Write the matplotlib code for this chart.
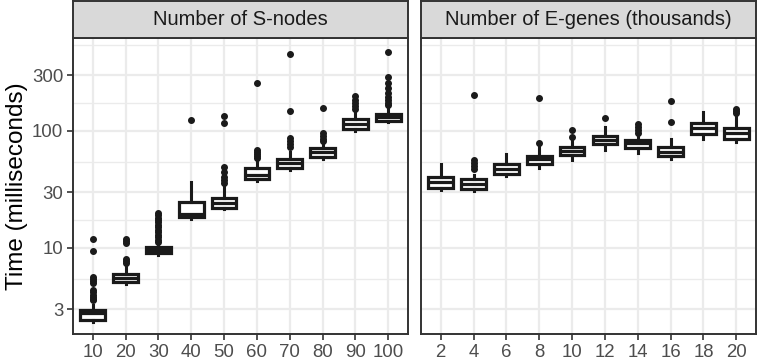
import numpy as np
import matplotlib
matplotlib.use("Agg")
import matplotlib.pyplot as plt

plt.rcParams["font.family"] = ["Liberation Sans", "DejaVu Sans"]

# ---------------------------------------------------------------------------
# data (milliseconds)
# ---------------------------------------------------------------------------
s_labels = ["10", "20", "30", "40", "50", "60", "70", "80", "90", "100"]
s_whislo = [2.33, 4.93, 8.7, 17.7, 21.4, 37.3, 46.5, 57.6, 100.6, 118.9]
s_q1 = [2.43, 5.15, 9.0, 18.5, 21.8, 38.9, 48.0, 60.3, 103, 122]
s_med = [2.78, 5.54, 9.6, 19.5, 24.0, 42.1, 53.0, 66.5, 115, 131]
s_q3 = [2.95, 5.99, 10.26, 24.9, 26.9, 48.3, 57.2, 71.0, 127, 139]
s_whishi = [3.26, 7.16, 10.6, 36.9, 33.4, 56.5, 66.1, 77.5, 146, 161]
s_fliers = [
    [11.9, 9.4, 5.6, 5.4, 5.2, 5.0, 4.4, 4.2, 4.0, 3.8, 3.7, 3.6],
    [11.9, 11.5, 11.1, 8.1, 7.8, 7.5],
    [19.9, 19.0, 18.2, 17.4, 16.6, 15.8, 15.0, 14.3, 13.6, 13.0, 12.4, 11.8, 11.3],
    [124],
    [133, 117, 49.5, 45, 40.8, 38, 36],
    [259, 68.8, 66.2, 63.6, 61.2, 59],
    [452, 149, 86.6, 82, 77.5, 73],
    [156, 96, 90.6, 85.4, 82],
    [199, 184, 174, 164, 154],
    [476, 291, 257, 233, 212, 195, 184, 174, 167],
]

e_labels = ["2", "4", "6", "8", "10", "12", "14", "16", "18", "20"]
e_whislo = [31.3, 30.7, 41.3, 48.0, 56.5, 68.8, 65.3, 57.2, 85, 81]
e_q1 = [32.8, 31.7, 42.7, 51.9, 62.3, 77, 71.1, 61, 94, 85]
e_med = [36.9, 35.2, 47.1, 57.2, 67.5, 83.7, 78.5, 66.1, 105, 95.5]
e_q3 = [40.7, 38.7, 51.9, 61, 72.5, 90.6, 83.7, 73.4, 117, 107]
e_whishi = [51.9, 42.1, 63.6, 73.4, 83.7, 109, 95.5, 85, 146, 132]
e_fliers = [
    [],
    [203, 56.5, 53.2, 50.2, 47.3],
    [],
    [192, 78.5],
    [102, 88.3],
    [130],
    [114, 108, 102, 97],
    [180, 120],
    [],
    [153, 148, 142],
]

strip_titles = ["Number of S-nodes", "Number of E-genes (thousands)"]
y_ticks = [3, 10, 30, 100, 300]
y_minor = [5.48, 17.3, 54.8, 173, 548]


def make_stats(whislo, q1, med, q3, whishi, fliers):
    out = []
    for i in range(len(med)):
        out.append(dict(whislo=whislo[i], q1=q1[i], med=med[i], q3=q3[i],
                        whishi=whishi[i], fliers=np.array(fliers[i])))
    return out


W, H = 757, 361
fig = plt.figure(figsize=(W / 100, H / 100), dpi=100)

panels = [
    (73, make_stats(s_whislo, s_q1, s_med, s_q3, s_whishi, s_fliers), s_labels),
    (421, make_stats(e_whislo, e_q1, e_med, e_q3, e_whishi, e_fliers), e_labels),
]
top, bottom, strip_top = 38, 334, 0.5
pw = 335
ink = "#1a1a1a"

for k, (x0, stats, labels) in enumerate(panels):
    ax = fig.add_axes([x0 / W, (H - bottom) / H, pw / W, (bottom - top) / H])
    ax.set_yscale("log")
    ax.set_ylim(1.84, 623)
    ax.set_xlim(0.4, len(labels) + 0.6)

    # grid
    for v in y_minor:
        ax.axhline(v, color="#EBEBEB", lw=1.0, zorder=0)
    for v in y_ticks:
        ax.axhline(v, color="#EBEBEB", lw=1.6, zorder=0)
    for p in range(1, len(labels) + 1):
        ax.axvline(p, color="#EBEBEB", lw=1.6, zorder=0)

    ax.bxp(stats, positions=range(1, len(labels) + 1), widths=0.75,
           showcaps=False, patch_artist=True,
           boxprops=dict(facecolor="white", edgecolor=ink, linewidth=2.3),
           medianprops=dict(color=ink, linewidth=2.3),
           whiskerprops=dict(color=ink, linewidth=2.2),
           flierprops=dict(marker="o", markerfacecolor=ink,
                           markeredgecolor=ink, markersize=4.0))

    ax.set_xticks(range(1, len(labels) + 1))
    ax.set_xticklabels(labels)
    ax.yaxis.set_minor_locator(matplotlib.ticker.NullLocator())
    ax.set_yticks(y_ticks)
    if k == 0:
        ax.set_yticklabels([str(v) for v in y_ticks])
        ax.set_ylabel("Time (milliseconds)", fontsize=17.5, labelpad=3)
    else:
        ax.tick_params(axis="y", left=False, labelleft=False)
    ax.tick_params(axis="both", length=4.5, width=1.2, color="#333333",
                   labelsize=13.4, labelcolor="#4D4D4D", pad=2.5)
    for sp in ax.spines.values():
        sp.set_color("#333333")
        sp.set_linewidth(1.4)

    # facet strip
    st = fig.add_axes([x0 / W, (H - top) / H, pw / W, (top - strip_top) / H])
    st.set_facecolor("#D9D9D9")
    st.set_xticks([])
    st.set_yticks([])
    for sp in st.spines.values():
        sp.set_color("#333333")
        sp.set_linewidth(1.4)
    st.text(0.5, 0.5, strip_titles[k], ha="center", va="center",
            fontsize=14.5, color=ink, transform=st.transAxes)

fig.savefig("out.png", dpi=100)
